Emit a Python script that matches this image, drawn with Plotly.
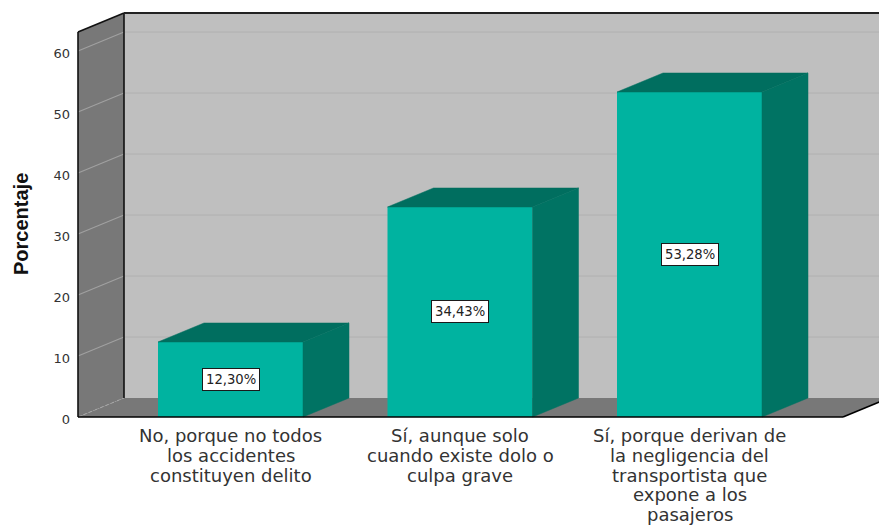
import plotly.graph_objects as go

categories = ["No, porque no todos<br>los accidentes<br>constituyen delito",
              "Sí, aunque solo<br>cuando existe dolo o<br>culpa grave",
              "Sí, porque derivan de<br>la negligencia del<br>transportista que<br>expone a los<br>pasajeros"]
values = [12.30, 34.43, 53.28]
labels = ["12,30%", "34,43%", "53,28%"]
y_ticks = [0, 10, 20, 30, 40, 50, 60]

W, H = 879, 526
PX_X = 229.5     # pixels per category
PX_Y = 6.1       # pixels per percent
X0_PX = 230.5    # pixel of first category
Y0_PX = 417
DL, DB = 74, 421 # plot area left / bottom pixel
DX = 46 / PX_X   # depth of the 3D effect, axis units
DY = 19 / PX_Y
BW = 145 / PX_X
TOP = (417 - 32) / PX_Y
XL = (78 - X0_PX) / PX_X
XR = (843 - X0_PX) / PX_X
XMAX = XR + 2 * DX

FRONT, SIDE, TOPC = "#00B3A0", "#007363", "#006E5F"
WALL, DARK = "#BFBFBF", "#787878"


def poly(pts):
    return "M " + " L ".join(f"{x},{y}" for x, y in pts) + " Z"


shapes = []
def add_poly(pts, fill):
    shapes.append(dict(type="path", path=poly(pts), fillcolor=fill, line=dict(width=0),
                       xref="x", yref="y", layer="below"))
def add_line(x0, y0, x1, y1, color, width=1, dash="solid", layer="below"):
    shapes.append(dict(type="line", x0=x0, y0=y0, x1=x1, y1=y1, xref="x", yref="y",
                       line=dict(color=color, width=width, dash=dash), layer=layer))

add_poly([(XL + DX, DY), (XMAX, DY), (XMAX, TOP + DY), (XL + DX, TOP + DY)], WALL)
add_poly([(XL, 0), (XL + DX, DY), (XL + DX, TOP + DY), (XL, TOP)], DARK)
add_poly([(XL, 0), (XL + DX, DY), (XMAX, DY), (XR + DX, DY), (XR, 0)], DARK)
add_poly([(XR, 0), (XR + 2 * DX, 2 * DY), (XR + 2 * DX, DY), (XR + DX, DY)], WALL)
for t in y_ticks:
    if t == 0:
        add_line(XL, t, XL + DX, t + DY, "#A8A8A8", 1, "dot")
        continue
    add_line(XL, t, XL + DX, t + DY, "#A0A0A0", 1.2)
    add_line(XL + DX, t + DY, XMAX, t + DY, "#B0B0B0", 1)
add_line(XL, 0, XL, TOP, "#111111", 1.6)
add_line(XL + DX, DY, XL + DX, TOP + DY, "#111111", 1.6)
add_line(XL, TOP, XL + DX, TOP + DY, "#111111", 1.6)
add_line(XL + DX, TOP + DY, XMAX, TOP + DY, "#222222", 2)
add_line(XL, 0, XR, 0, "#000000", 1.6, layer="above")
add_line(XR, 0, XMAX, 2 * DY, "#000000", 1.6, layer="above")

fig = go.Figure()
xs = list(range(len(values)))
fig.add_bar(x=xs, y=values, width=BW, marker=dict(color=FRONT, line=dict(width=0)),
            showlegend=False, hoverinfo="skip")
for x, v in zip(xs, values):
    l, r = x - BW / 2, x + BW / 2
    fig.add_scatter(x=[l, r, r + DX, l + DX, l], y=[v, v, v + DY, v + DY, v], mode="lines",
                    fill="toself", fillcolor=TOPC, line=dict(color=TOPC, width=0.5),
                    showlegend=False, hoverinfo="skip")
    fig.add_scatter(x=[r, r + DX, r + DX, r, r], y=[0, DY, v + DY, v, 0], mode="lines",
                    fill="toself", fillcolor=SIDE, line=dict(color=SIDE, width=0.5),
                    showlegend=False, hoverinfo="skip")

annotations = [dict(x=x, y=v / 2, xref="x", yref="y", text=t, showarrow=False,
                    bgcolor="white", bordercolor="#1a1a1a", borderwidth=1, borderpad=3,
                    font=dict(family="DejaVu Sans", size=13.2, color="#222222"))
               for x, v, t in zip(xs, values, labels)]
annotations.append(dict(x=0, y=(Y0_PX - 224) / PX_Y, xref="paper", yref="y", xshift=-66,
                        text="<b>Porcentaje</b>", textangle=-90, showarrow=False,
                        font=dict(family="Liberation Sans", size=20, color="#111111")))
# category labels, line by line: the reference leading is tighter than an axis label allows
LINE_PX, FIRST_PX = 19.8, 435.5
for x, cat in zip(xs, categories):
    for i, line in enumerate(cat.split("<br>")):
        annotations.append(dict(x=x, y=(DB - (FIRST_PX + i * LINE_PX)) / DB, xref="x", yref="paper",
                                text=line, showarrow=False, xanchor="center", yanchor="middle",
                                font=dict(family="DejaVu Sans", size=18, color="#333333")))

fig.update_layout(
    width=W, height=H, autosize=False,
    margin=dict(l=DL, r=0, t=0, b=H - DB),
    paper_bgcolor="white", plot_bgcolor="white",
    shapes=shapes, annotations=annotations, showlegend=False,
    xaxis=dict(range=[(DL - X0_PX) / PX_X, (W - X0_PX) / PX_X], tickvals=xs, showticklabels=False,
               automargin=False, showgrid=False, zeroline=False, showline=False, ticks=""),
    yaxis=dict(range=[(Y0_PX - DB) / PX_Y, Y0_PX / PX_Y], tickvals=y_ticks, ticktext=[str(t) for t in y_ticks],
               automargin=False, showgrid=False, zeroline=False, showline=False, ticks="",
               ticklabelshift=2, ticklabelstandoff=3,
               tickfont=dict(family="DejaVu Sans", size=13, color="#333333")),
)
fig.write_html("out.html", config=dict(displayModeBar=False),
               post_script="document.body.style.margin='0';")
